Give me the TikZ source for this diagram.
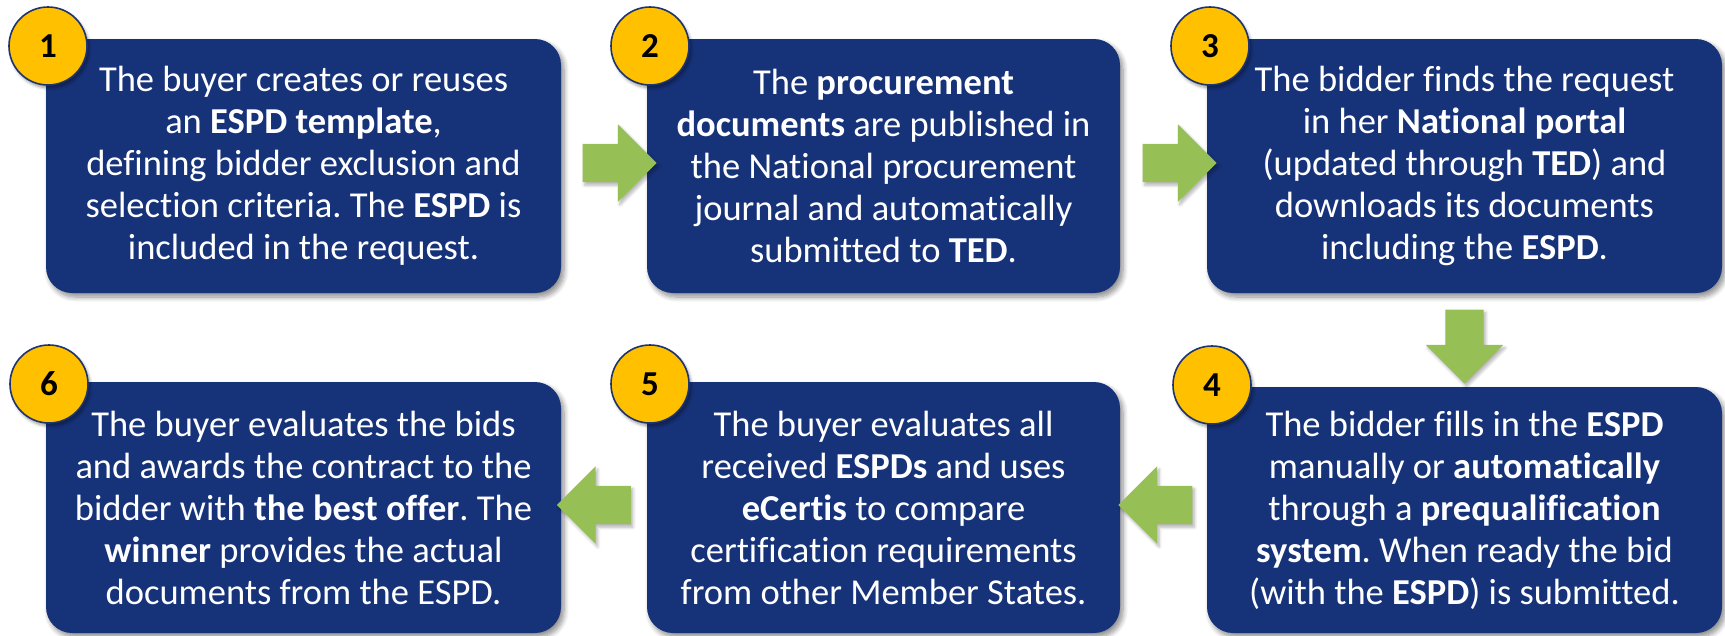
\documentclass[tikz,border=0pt]{standalone}
\usepackage{fontspec}
\setmainfont{Carlito}[Ligatures=NoCommon]
\usetikzlibrary{shapes.arrows,shadows.blur}
\definecolor{boxblue}{RGB}{22,50,121}
\definecolor{gold}{RGB}{255,192,0}
\definecolor{ringblue}{RGB}{30,52,110}
\definecolor{arrowgreen}{RGB}{150,192,85}
\tikzset{
  stepbox/.style={rounded corners=26pt, fill=boxblue, text=white, align=center,
    inner sep=0pt, font=\fontsize{36.5}{42}\selectfont\frenchspacing,
    blur shadow={shadow xshift=3pt, shadow yshift=-4pt, shadow blur radius=5pt, shadow blur steps=8, shadow opacity=45}},
  numdisc/.style={circle, fill=gold, draw=ringblue, line width=1.6pt, minimum size=78pt,
    inner sep=0pt, font=\fontsize{35}{40}\selectfont\bfseries, text=black,
    blur shadow={shadow xshift=2pt, shadow yshift=-3pt, shadow blur radius=3pt, shadow blur steps=6, shadow opacity=40}},
  blockarrow/.style={single arrow, fill=arrowgreen, draw=none, minimum width=77pt,
    minimum height=74pt, inner sep=19pt, single arrow head extend=19.5pt,
    blur shadow={shadow xshift=2pt, shadow yshift=-3pt, shadow blur radius=3pt, shadow blur steps=6, shadow opacity=30}}
}
\begin{document}
\begin{tikzpicture}[x=1pt,y=-1pt]
\useasboundingbox (0,0) rectangle (1725,635);
% boxes
\node[stepbox, minimum width=515pt, minimum height=254pt] (b1) at (303.5,166)
  {The buyer creates or reuses\\ an \textbf{ESPD template},\\ defining bidder exclusion and\\ selection criteria. The \textbf{ESPD} is\\ included in the request.};
\node[stepbox, minimum width=473pt, minimum height=254pt] (b2) at (883.5,166)
  {The \textbf{procurement}\\ \textbf{documents} are published in\\ the National procurement\\ journal and automatically\\ submitted to \textbf{TED}.};
\node[stepbox, minimum width=515pt, minimum height=254pt] (b3) at (1464.5,166)
  {The bidder finds the request\\ in her \textbf{National portal}\\ (updated through \textbf{TED}) and\\ downloads its documents\\ including the \textbf{ESPD}.};
\node[stepbox, minimum width=515pt, minimum height=246pt] (b4) at (1464.5,510)
  {The bidder fills in the \textbf{ESPD}\\ manually or \textbf{automatically}\\ through a \textbf{prequalification}\\ \textbf{system}. When ready the bid\\ (with the \textbf{ESPD}) is submitted.};
\node[stepbox, minimum width=473pt, minimum height=251pt] (b5) at (883.5,507.5)
  {The buyer evaluates all\\ received \textbf{ESPDs} and uses\\ \textbf{eCertis} to compare\\ certification requirements\\ from other Member States.};
\node[stepbox, minimum width=515pt, minimum height=251pt] (b6) at (303.5,507.5)
  {The buyer evaluates the bids\\ and awards the contract to the\\ bidder with \textbf{the best offer}. The\\ \textbf{winner} provides the actual\\ documents from the ESPD.};
% arrows
\node[blockarrow] (a12) at (610,163) {};
\node[blockarrow] (a23) at (1170,163) {};
\node[blockarrow, shape border rotate=270] (a34) at (1464.5,337) {};
\node[blockarrow, shape border rotate=180] (a45) at (1165,505) {};
\node[blockarrow, shape border rotate=180] (a56) at (603.5,505) {};
% number discs
\node[numdisc] (n1) at (48,46) {1};
\node[numdisc] (n2) at (650,46) {2};
\node[numdisc] (n3) at (1210,46) {3};
\node[numdisc] (n4) at (1212,385) {4};
\node[numdisc] (n5) at (650,384) {5};
\node[numdisc] (n6) at (49,384) {6};
\end{tikzpicture}
\end{document}
